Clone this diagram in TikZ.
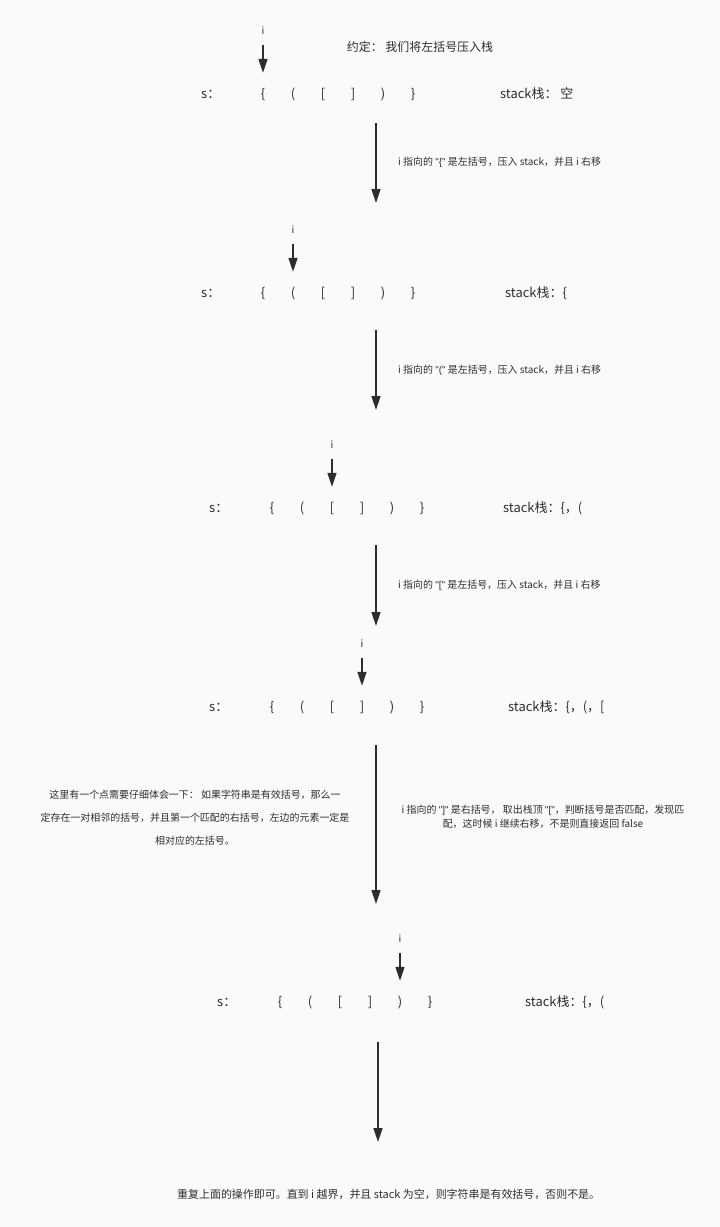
\documentclass[tikz,border=0pt]{standalone}
\usepackage{fontspec}
\setmainfont{Noto Sans CJK SC}
\newfontfamily\latinfont{Liberation Sans}
\usetikzlibrary{arrows.meta,positioning}
\definecolor{ink}{RGB}{45,45,45}
\definecolor{paper}{RGB}{250,250,250}
\tikzset{
  row text/.style={font=\fontsize{13}{15}\selectfont,text=ink,inner sep=0pt,minimum height=20bp},
  brk/.style={row text,anchor=center},
  idx/.style={font=\fontsize{10}{12}\selectfont,text=ink,inner sep=0pt,text height=7bp,text depth=0bp},
  note/.style={font=\fontsize{10}{23}\selectfont,text=ink,inner sep=0pt,align=center},
  pointer/.style={draw=ink,line width=1.5bp,-{Triangle[width=9bp,length=14bp]},shorten <=10bp,shorten >=11bp},
  flow/.style={draw=ink,line width=1.5bp,-{Triangle[width=9bp,length=14bp]}},
}
% one row of the string: {, (, [, ], ), }
\newcommand\bracketrow[3]{%
  \foreach \ch [count=\k] in {\{,{(},[,],{)},\}}
    \node[brk] (#1-\k) at ({#2+30*(\k-1)},#3) {\ch};
}
\newcommand\quoted[1]{{\latinfont "#1"}}

\begin{document}
\begin{tikzpicture}[x=1bp,y=-1bp]
    \fill[paper] (0,0) rectangle (720,1227);
    \useasboundingbox (0,0) rectangle (720,1227);

    % row 1
    \node[row text,anchor=west] (s1) at (201,94) {s：};
    \bracketrow{r1}{263}{94}
    \node[idx] (i1) [above=49bp of r1-1] {i};
    \node[note] (rule) at (420,47) {\fontsize{12}{14}\selectfont 约定： 我们将左括号压入栈};
    \node[row text,anchor=west] (st1) at (500,94) {stack栈： 空};
    \draw[pointer] (i1.south) -- (r1-1.north);

    \coordinate (f1a) at (376,123);
    \coordinate (f1b) at (376,203);
    \draw[flow] (f1a) -- (f1b);
    \node[note,anchor=west] (l1) at (398,162) {i 指向的 \quoted{\{} 是左括号，压入 stack，并且 i 右移};

    % row 2
    \node[row text,anchor=west] (s2) at (201,293) {s：};
    \bracketrow{r2}{263}{293}
    \node[idx] (i2) [above=49bp of r2-2] {i};
    \node[row text,anchor=west] (st2) at (505,293) {stack栈：\{};
    \draw[pointer] (i2.south) -- (r2-2.north);

    \coordinate (f2a) at (376,330);
    \coordinate (f2b) at (376,410);
    \draw[flow] (f2a) -- (f2b);
    \node[note,anchor=west] (l2) at (398,370) {i 指向的 \quoted{(} 是左括号，压入 stack，并且 i 右移};

    % row 3
    \node[row text,anchor=west] (s3) at (209,508) {s：};
    \bracketrow{r3}{272}{508}
    \node[idx] (i3) [above=49bp of r3-3] {i};
    \node[row text,anchor=west] (st3) at (503,508) {stack栈：\{，(};
    \draw[pointer] (i3.south) -- (r3-3.north);

    \coordinate (f3a) at (376,545);
    \coordinate (f3b) at (376,626);
    \draw[flow] (f3a) -- (f3b);
    \node[note,anchor=west] (l3) at (398,585) {i 指向的 \quoted{[} 是左括号，压入 stack，并且 i 右移};

    % row 4
    \node[row text,anchor=west] (s4) at (209,707) {s：};
    \bracketrow{r4}{272}{707}
    \node[idx] (i4) [above=49bp of r4-4] {i};
    \node[row text,anchor=west] (st4) at (508,707) {stack栈：\{，(，[};
    \draw[pointer] (i4.south) -- (r4-4.north);

    \coordinate (f4a) at (376,745);
    \coordinate (f4b) at (376,904);
    \draw[flow] (f4a) -- (f4b);
    \node[note,font=\fontsize{10}{14}\selectfont] (l4) at (543,817)
        {i 指向的 \quoted{]} 是右括号， 取出栈顶 \quoted{[}，判断括号是否匹配，发现匹\\配，这时候 i 继续右移，不是则直接返回 false};
    \node[note] (tip) at (195,818)
        {这里有一个点需要仔细体会一下： 如果字符串是有效括号，那么一\\定存在一对相邻的括号，并且第一个匹配的右括号，左边的元素一定是\\相对应的左括号。};

    % row 5
    \node[row text,anchor=west] (s5) at (217,1002) {s：};
    \bracketrow{r5}{280}{1002}
    \node[idx] (i5) [above=49bp of r5-5] {i};
    \node[row text,anchor=west] (st5) at (525,1002) {stack栈：\{，(};
    \draw[pointer] (i5.south) -- (r5-5.north);

    \coordinate (f5a) at (378,1042);
    \coordinate (f5b) at (378,1142);
    \draw[flow] (f5a) -- (f5b);

    \node[note,anchor=west,font=\fontsize{11}{13}\selectfont] (end) at (177,1194)
        {重复上面的操作即可。直到 i 越界，并且 stack 为空，则字符串是有效括号，否则不是。};
\end{tikzpicture}
\end{document}
